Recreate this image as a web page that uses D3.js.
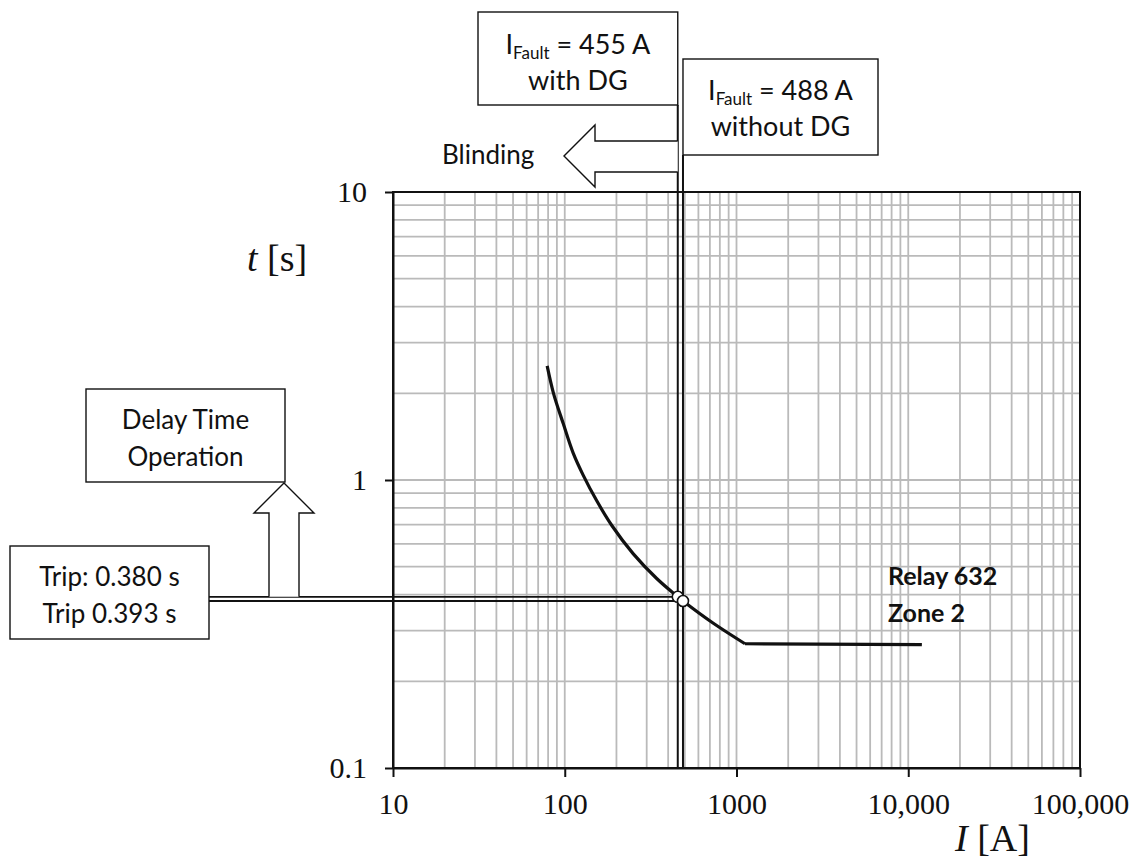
<!DOCTYPE html>
<html>
<head>
<meta charset="utf-8">
<script src="https://cdn.jsdelivr.net/npm/d3@7"></script>
<style>
  body { margin: 0; background: #fff; }
  svg { display: block; }
  .sans { font-family: Lato, "Open Sans", sans-serif; fill: #111; }
  .serif { font-family: "Liberation Serif", "DejaVu Serif", serif; fill: #111; }
</style>
</head>
<body>
<svg id="chart" width="1134" height="861"></svg>
<script>
// axis ticks
var currentTicks = [10, 100, 1000, 10000, 100000];
var currentTickLabels = ['10', '100', '1000', '10,000', '100,000'];
var timeTicks = [0.1, 1, 10];
var timeTickLabels = ['0.1', '1', '10'];

// relay 632 zone 2 curve (current in A, time in s)
var curveCurrent = [79, 86, 98, 112, 128, 153, 188, 250, 343, 455, 488, 733, 1120, 12000];
var curveTime = [2.49, 2.0, 1.57, 1.24, 1.04, 0.85, 0.695, 0.555, 0.455, 0.393, 0.380, 0.318, 0.270, 0.268];

// fault points
var faultCurrent = [455, 488];
var tripTime = [0.393, 0.380];
var faultCase = ['with DG', 'without DG'];
var tripLabels = ['Trip: 0.380 s', 'Trip 0.393 s'];

var svg = d3.select('#chart');

var x = d3.scaleLog().domain([10, 100000]).range([393, 1080]);
var y = d3.scaleLog().domain([0.1, 10]).range([768, 192]);

// grid
var xGrid = [];
for (var d = 10; d < 100000; d *= 10) {
    for (var k = 2; k <= 9; k++) {
        xGrid.push(k * d);
    }
    if (d > 10) xGrid.push(d);
}
var yGrid = [];
for (var e = 0.1; e < 10; e *= 10) {
    for (var m = 2; m <= 9; m++) {
        yGrid.push(m * e);
    }
}
yGrid.push(1);

svg.append('g').selectAll('line').data(xGrid).enter().append('line')
    .attr('x1', function(d) { return x(d); })
    .attr('x2', function(d) { return x(d); })
    .attr('y1', y(0.1))
    .attr('y2', y(10))
    .attr('stroke', '#bababa')
    .attr('stroke-width', 1.8);

svg.append('g').selectAll('line').data(yGrid).enter().append('line')
    .attr('x1', x(10))
    .attr('x2', x(100000))
    .attr('y1', function(d) { return y(d); })
    .attr('y2', function(d) { return y(d); })
    .attr('stroke', '#bababa')
    .attr('stroke-width', 1.8);

// frame
svg.append('rect')
    .attr('x', x(10))
    .attr('y', y(10))
    .attr('width', x(100000) - x(10))
    .attr('height', y(0.1) - y(10))
    .attr('fill', 'none')
    .attr('stroke', '#111')
    .attr('stroke-width', 2);

// axes
var xAxis = svg.append('g')
    .attr('transform', 'translate(0,' + y(0.1) + ')')
    .call(d3.axisBottom(x).tickValues(currentTicks)
        .tickFormat(function(d, i) { return currentTickLabels[i]; })
        .tickSize(9).tickSizeOuter(0).tickPadding(16));

var yAxis = svg.append('g')
    .attr('transform', 'translate(' + x(10) + ',0)')
    .call(d3.axisLeft(y).tickValues(timeTicks)
        .tickFormat(function(d, i) { return timeTickLabels[i]; })
        .tickSize(8).tickSizeOuter(0).tickPadding(18));

[xAxis, yAxis].forEach(function(a) {
    a.select('.domain').attr('stroke', '#111').attr('stroke-width', 2);
    a.selectAll('.tick line').attr('stroke', '#111').attr('stroke-width', 2);
    a.selectAll('.tick text')
        .attr('class', 'serif')
        .style('font-size', '30px')
        .attr('fill', '#111');
});

// axis titles
var tTitle = svg.append('text').attr('class', 'serif')
    .attr('x', 247).attr('y', 271).style('font-size', '38px');
tTitle.append('tspan').style('font-style', 'italic').text('t');
tTitle.append('tspan').text(' [s]');

var iTitle = svg.append('text').attr('class', 'serif')
    .attr('x', 955).attr('y', 851).style('font-size', '38px');
iTitle.append('tspan').style('font-style', 'italic').text('I');
iTitle.append('tspan').text(' [A]');

// relay curve: smooth inverse part, then definite-time flat part
var curvePoints = curveCurrent.map(function(c, i) { return [c, curveTime[i]]; });
var breakIdx = curveCurrent.indexOf(1120);
var smoothLine = d3.line()
    .x(function(d) { return x(d[0]); })
    .y(function(d) { return y(d[1]); })
    .curve(d3.curveCatmullRom.alpha(0.5));
var flatLine = d3.line()
    .x(function(d) { return x(d[0]); })
    .y(function(d) { return y(d[1]); });

svg.append('path')
    .datum(curvePoints.slice(0, breakIdx + 1))
    .attr('d', smoothLine)
    .attr('fill', 'none')
    .attr('stroke', '#111')
    .attr('stroke-width', 3.2)
    .attr('stroke-linejoin', 'round');
svg.append('path')
    .datum(curvePoints.slice(breakIdx))
    .attr('d', flatLine)
    .attr('fill', 'none')
    .attr('stroke', '#111')
    .attr('stroke-width', 3.2);

svg.append('text').attr('class', 'sans')
    .attr('x', 888).attr('y', 585)
    .style('font-size', '25px').style('font-weight', 'bold')
    .text('Relay 632');
svg.append('text').attr('class', 'sans')
    .attr('x', 888).attr('y', 622)
    .style('font-size', '25px').style('font-weight', 'bold')
    .text('Zone 2');

// fault current boxes
var faultBoxes = [
    { x0: 478, x1: x(faultCurrent[0]), y0: 12, y1: 105, b1: 54, b2: 90 },
    { x0: x(faultCurrent[1]), x1: 878, y0: 59, y1: 155, b1: 100, b2: 136 }
];

// vertical fault lines
faultCurrent.forEach(function(c, i) {
    svg.append('line')
        .attr('x1', x(c)).attr('x2', x(c))
        .attr('y1', y(0.1)).attr('y2', faultBoxes[i].y1)
        .attr('stroke', '#111')
        .attr('stroke-width', 2);
});

faultBoxes.forEach(function(b, i) {
    svg.append('rect')
        .attr('x', b.x0).attr('y', b.y0)
        .attr('width', b.x1 - b.x0).attr('height', b.y1 - b.y0)
        .attr('fill', '#fff').attr('stroke', '#111').attr('stroke-width', 1.4);
    var cx = (b.x0 + b.x1) / 2;
    var t1 = svg.append('text').attr('class', 'sans')
        .attr('x', cx).attr('y', b.b1)
        .attr('text-anchor', 'middle').style('font-size', '27px');
    t1.append('tspan').text('I');
    t1.append('tspan').attr('dy', 5).style('font-size', '17px').text('Fault');
    t1.append('tspan').attr('dy', -5).text(' = ' + faultCurrent[i] + ' A');
    svg.append('text').attr('class', 'sans')
        .attr('x', cx).attr('y', b.b2)
        .attr('text-anchor', 'middle').style('font-size', '27px')
        .text(faultCase[i]);
});

// blinding arrow
var bx = x(faultCurrent[0]);
svg.append('path')
    .attr('d', 'M' + bx + ',141 L595,141 L595,125 L564,156 L595,187 L595,172 L' + bx + ',172')
    .attr('fill', '#fff').attr('stroke', '#111').attr('stroke-width', 1.4);
svg.append('text').attr('class', 'sans')
    .attr('x', 442).attr('y', 164).style('font-size', '26px')
    .text('Blinding');

// trip lines to the curve
svg.append('g').selectAll('line').data(faultCurrent).enter().append('line')
    .attr('x1', 209)
    .attr('x2', function(d) { return x(d); })
    .attr('y1', function(d, i) { return y(tripTime[i]); })
    .attr('y2', function(d, i) { return y(tripTime[i]); })
    .attr('stroke', '#111')
    .attr('stroke-width', 1.8);

svg.append('g').selectAll('circle').data(faultCurrent).enter().append('circle')
    .attr('cx', function(d) { return x(d); })
    .attr('cy', function(d, i) { return y(tripTime[i]); })
    .attr('r', 5.5)
    .attr('fill', '#fff')
    .attr('stroke', '#111')
    .attr('stroke-width', 1.6);

// delay time arrow
var ay = y(tripTime[0]);
svg.append('path')
    .attr('d', 'M269,' + ay + ' L269,513 L254,513 L284,483 L314,513 L299,513 L299,' + ay)
    .attr('fill', '#fff').attr('stroke', '#111').attr('stroke-width', 1.4);

// text boxes on the left
var leftBoxes = [
    { x0: 86, y0: 389, lines: ['Delay Time', 'Operation'], b: [429, 466] },
    { x0: 10, y0: 546, lines: tripLabels, b: [586, 623] }
];
leftBoxes.forEach(function(b) {
    svg.append('rect')
        .attr('x', b.x0).attr('y', b.y0)
        .attr('width', 199).attr('height', 93)
        .attr('fill', '#fff').attr('stroke', '#111').attr('stroke-width', 1.4);
    b.lines.forEach(function(s, i) {
        svg.append('text').attr('class', 'sans')
            .attr('x', b.x0 + 99.5).attr('y', b.b[i])
            .attr('text-anchor', 'middle').style('font-size', '26px')
            .text(s);
    });
});
</script>
</body>
</html>
